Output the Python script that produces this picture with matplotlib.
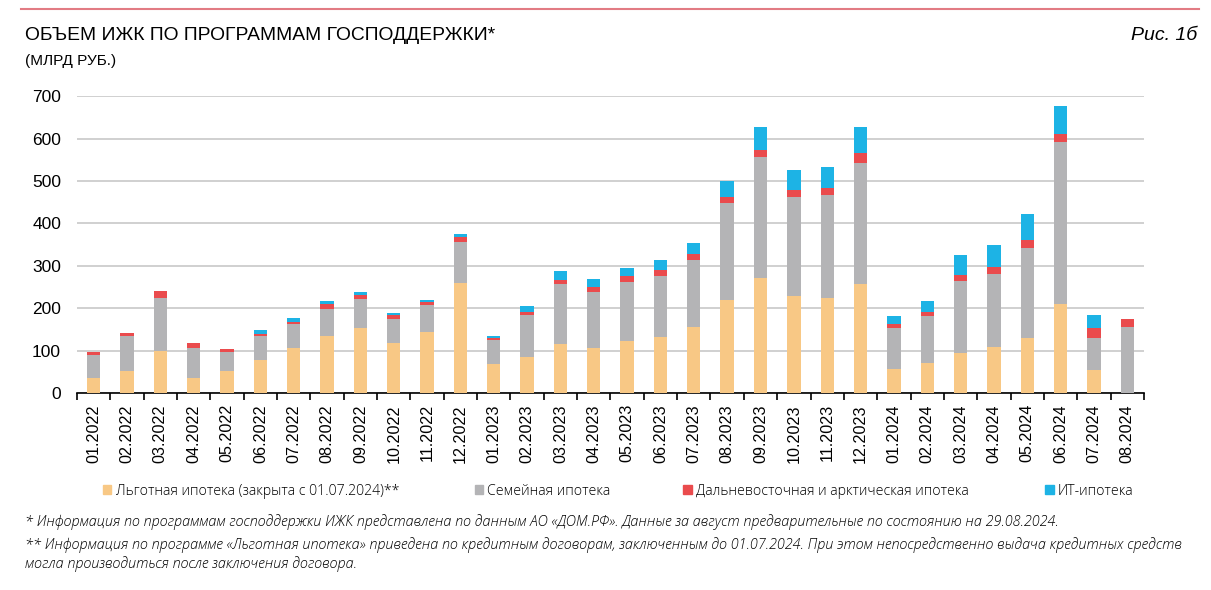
import matplotlib.pyplot as plt
import numpy as np
from matplotlib.lines import Line2D
from matplotlib.patches import Patch

months = ["01.2022", "02.2022", "03.2022", "04.2022", "05.2022", "06.2022", "07.2022", "08.2022",
          "09.2022", "10.2022", "11.2022", "12.2022", "01.2023", "02.2023", "03.2023", "04.2023",
          "05.2023", "06.2023", "07.2023", "08.2023", "09.2023", "10.2023", "11.2023", "12.2023",
          "01.2024", "02.2024", "03.2024", "04.2024", "05.2024", "06.2024", "07.2024", "08.2024"]

# values (bn rub)
lgotnaya = [35, 51, 100, 36, 51, 77, 106, 134, 152, 118, 144, 260, 68, 85, 115, 107,
            122, 132, 155, 220, 270, 228, 225, 257, 57, 70, 94, 108, 130, 209, 53, 0]
semeinaya = [54, 83, 125, 71, 46, 57, 56, 65, 69, 56, 63, 97, 57, 100, 141, 131,
             140, 145, 158, 229, 286, 235, 241, 285, 96, 112, 171, 172, 212, 382, 77, 155]
dalnevost = [8, 8, 15, 10, 6, 6, 5, 10, 9, 9, 7, 11, 5, 7, 11, 12,
             13, 12, 14, 14, 17, 16, 17, 25, 10, 10, 13, 17, 18, 19, 23, 19]
it_ipoteka = [0, 0, 0, 0, 0, 9, 10, 9, 9, 5, 6, 7, 4, 13, 20, 19,
              20, 25, 26, 38, 55, 46, 50, 60, 19, 25, 47, 52, 61, 66, 31, 0]

labels = ["Льготная ипотека (закрыта с 01.07.2024)**", "Семейная ипотека",
          "Дальневосточная и арктическая ипотека", "ИТ-ипотека"]
colors = ["#F8C885", "#B4B4B6", "#EA4B4D", "#1DB3E5"]

plt.rcParams['font.family'] = ['Liberation Sans', 'DejaVu Sans']
light = dict(family=['Open Sans', 'DejaVu Sans'], weight='light')

fig = plt.figure(figsize=(12.11, 5.9), dpi=100)
ax = fig.add_axes([0.0636, 0.334, 0.881, 0.503])

x = np.arange(len(months))
bottom = np.zeros(len(months))
for vals, c in zip([lgotnaya, semeinaya, dalnevost, it_ipoteka], colors):
    ax.bar(x, vals, 0.4, bottom=bottom, color=c, zorder=3)
    bottom += np.array(vals)

ax.set_xlim(-0.5, len(months) - 0.5)
ax.set_ylim(0, 700)
ax.set_yticks(range(0, 701, 100))
ax.yaxis.grid(True, color="#c4c4c4", lw=1.1, zorder=0)
ax.tick_params(axis='y', length=0, labelsize=12.5, pad=11.5)
ax.set_xticks(x)
ax.set_xticklabels(months, rotation=90, fontsize=11.6)
ax.tick_params(axis='x', length=0, pad=8)
ax.set_xticks(np.arange(-0.5, len(months)), minor=True)
ax.tick_params(axis='x', which='minor', length=5, width=1.2, color='black', direction='out')
for s in ['top', 'right', 'left']:
    ax.spines[s].set_visible(False)
ax.spines['bottom'].set_linewidth(1.2)

# top red line and titles
fig.add_artist(Line2D([0.017, 0.99], [0.985, 0.985], color="#E27B84", lw=1.5))
fig.text(0.021, 0.94, "ОБЪЕМ ИЖК ПО ПРОГРАММАМ ГОСПОДДЕРЖКИ*", fontsize=13.9, va='center')
fig.text(0.021, 0.897, "(МЛРД РУБ.)", fontsize=11.1, va='center')
fig.text(0.989, 0.94, "Рис. 1б", fontsize=14, style='italic', ha='right', va='center')

# legend: one entry per slot, placed like the original
leg_x = [0.085, 0.392, 0.564, 0.863]
for lx, lab, c in zip(leg_x, labels, colors):
    fig.legend([Patch(color=c)], [lab], loc='center left', bbox_to_anchor=(lx, 0.167),
               frameon=False, handlelength=0.6, handleheight=0.6, handletextpad=0.3,
               borderaxespad=0, borderpad=0, prop=dict(size=10.2, **light))

foot = dict(fontsize=10.4, style='italic', va='center', **light)
fig.text(0.021, 0.115, "* Информация по программам господдержки ИЖК представлена по данным АО «ДОМ.РФ». "
         "Данные за август предварительные по состоянию на 29.08.2024.", **foot)
fig.text(0.021, 0.077, "** Информация по программе «Льготная ипотека» приведена по кредитным договорам, "
         "заключенным до 01.07.2024. При этом непосредственно выдача кредитных средств", **foot)
fig.text(0.021, 0.044, "могла производиться после заключения договора.", **foot)

fig.savefig("out.png", dpi=100)
